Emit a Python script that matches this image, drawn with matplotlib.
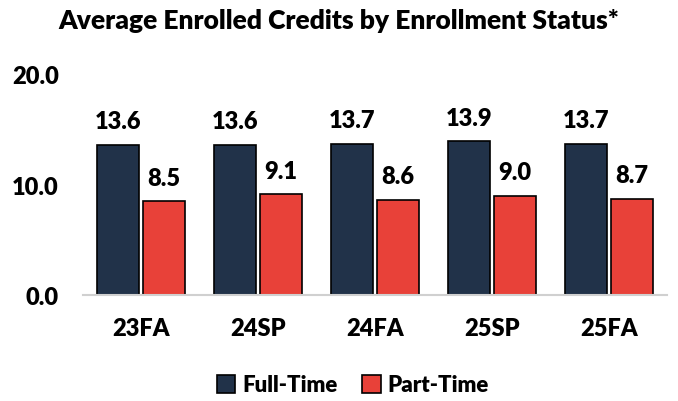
import matplotlib
matplotlib.use("Agg")
import matplotlib.pyplot as plt
import numpy as np

categories = ["23FA", "24SP", "24FA", "25SP", "25FA"]
full_time = [13.6, 13.6, 13.7, 13.9, 13.7]
part_time = [8.5, 9.1, 8.6, 9.0, 8.7]
yticks = [0.0, 10.0, 20.0]

plt.rcParams['font.family'] = ['Lato', 'DejaVu Sans']
plt.rcParams['font.weight'] = 'heavy'
FW = 'heavy'

fig = plt.figure(figsize=(6.78, 4.02), dpi=100)
ax = fig.add_axes([0.1217, 0.2637, 0.8628, 0.5497])

x = np.arange(len(categories))
w = 0.36
gap = 0.013
navy = "#213249"
red = "#E84139"
b1 = ax.bar(x - w/2 - gap, full_time, w, color=navy, edgecolor="black", linewidth=1.2, label="Full-Time")
b2 = ax.bar(x + w/2 + gap, part_time, w, color=red, edgecolor="black", linewidth=1.2, label="Part-Time")

for bars, vals in ((b1, full_time), (b2, part_time)):
    for r, v in zip(bars, vals):
        ax.annotate(f"{v:.1f}", (r.get_x() + r.get_width()/2, r.get_height()),
                    xytext=(0, 9), textcoords="offset points", ha="center", va="bottom",
                    fontsize=17, fontweight=FW, color="black")

ax.set_xlim(-0.5, len(categories) - 0.5)
ax.set_ylim(0, 20)
ax.set_yticks(yticks)
ax.set_yticklabels([f"{t:.1f}" for t in yticks], fontsize=17, fontweight=FW)
ax.set_xticks(x)
ax.set_xticklabels(categories, fontsize=17, fontweight=FW)
ax.tick_params(axis="y", length=0, pad=17)
ax.tick_params(axis="x", length=0, pad=16)
for s in ("top", "right", "left"):
    ax.spines[s].set_visible(False)
ax.spines["bottom"].set_color("#D0D0D0")
ax.spines["bottom"].set_linewidth(1.5)

fig.text(0.5, 0.947, "Average Enrolled Credits by Enrollment Status*", ha="center", va="center",
         fontsize=19, fontweight=FW)

fig.legend(handles=[b1, b2], loc="center", bbox_to_anchor=(0.52, 0.04), ncol=2, frameon=False,
           prop={"size": 16, "weight": FW}, handlelength=0.85, handleheight=0.85,
           handletextpad=0.3, columnspacing=1.1)

fig.savefig("out.png", dpi=100)
